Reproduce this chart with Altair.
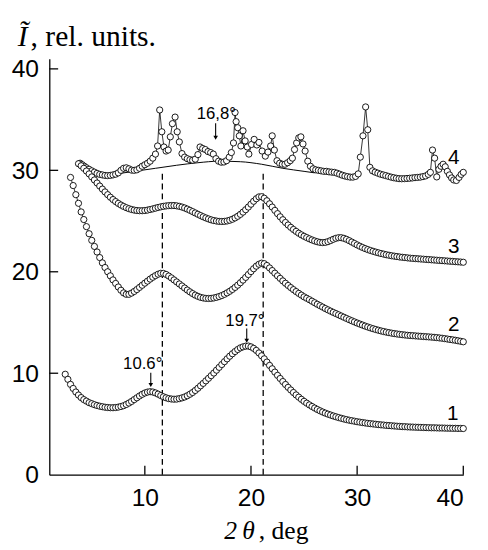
import altair as alt
import pandas as pd
import numpy as np

# ---------------- data ----------------
# curve 1 : 2.5 .. 40 deg, step 0.25
y1 = [9.9, 9.4, 8.9, 8.5, 8.15, 7.85, 7.6, 7.4, 7.25, 7.1,
      7.0, 6.9, 6.82, 6.75, 6.7, 6.65, 6.62, 6.6, 6.6, 6.62,
      6.66, 6.72, 6.8, 6.92, 7.06, 7.22, 7.4, 7.58, 7.76, 7.92,
      8.05, 8.14, 8.18, 8.15, 8.06, 7.94, 7.8, 7.68, 7.58, 7.5,
      7.46, 7.44, 7.45, 7.5, 7.57, 7.66, 7.78, 7.93, 8.1, 8.3,
      8.52, 8.76, 9.0, 9.25, 9.5, 9.76, 10.02, 10.3, 10.58, 10.86,
      11.14, 11.42, 11.68, 11.92, 12.14, 12.34, 12.5, 12.6, 12.67, 12.68,
      12.6, 12.45, 12.25, 12.0, 11.72, 11.42, 11.1, 10.77, 10.44, 10.11,
      9.79, 9.48, 9.18, 8.89, 8.61, 8.35, 8.1, 7.86, 7.64, 7.43,
      7.23, 7.05, 6.88, 6.72, 6.57, 6.43, 6.3, 6.18, 6.07, 5.97,
      5.88, 5.79, 5.71, 5.63, 5.56, 5.49, 5.43, 5.37, 5.32, 5.27,
      5.22, 5.18, 5.14, 5.1, 5.06, 5.03, 5.0, 4.97, 4.94, 4.91,
      4.89, 4.86, 4.84, 4.82, 4.8, 4.78, 4.76, 4.74, 4.73, 4.71,
      4.7, 4.69, 4.68, 4.67, 4.66, 4.65, 4.64, 4.63, 4.62, 4.62,
      4.61, 4.6, 4.6, 4.59, 4.58, 4.58, 4.57, 4.57, 4.56, 4.56,
      4.55]
x1_range = [2.5, 40.0]

# curve 2 : 3.0 .. 40 deg, step 0.25
y2 = [29.3, 28.5, 27.6, 26.75, 25.9, 25.15, 24.45, 23.75, 23.1, 22.5,
      21.95, 21.4, 20.88, 20.42, 20.0, 19.6, 19.2, 18.85, 18.5, 18.18,
      17.92, 17.78, 17.78, 17.9, 18.06, 18.25, 18.46, 18.67, 18.88, 19.08,
      19.28, 19.46, 19.62, 19.76, 19.85, 19.84, 19.74, 19.58, 19.4, 19.2,
      19.0, 18.8, 18.6, 18.4, 18.2, 18.02, 17.85, 17.7, 17.58, 17.48,
      17.42, 17.38, 17.37, 17.38, 17.42, 17.48, 17.56, 17.66, 17.78, 17.92,
      18.08, 18.26, 18.46, 18.68, 18.92, 19.18, 19.45, 19.73, 20.02, 20.3,
      20.55, 20.74, 20.85, 20.8, 20.62, 20.38, 20.12, 19.86, 19.6, 19.35,
      19.1, 18.87, 18.65, 18.44, 18.24, 18.05, 17.87, 17.7, 17.53, 17.39,
      17.25, 17.1, 16.95, 16.8, 16.66, 16.52, 16.38, 16.25, 16.12, 16.0,
      15.88, 15.76, 15.64, 15.52, 15.4, 15.28, 15.17, 15.06, 14.95, 14.85,
      14.75, 14.65, 14.56, 14.47, 14.39, 14.31, 14.24, 14.17, 14.11, 14.05,
      14.0, 13.95, 13.91, 13.87, 13.83, 13.8, 13.77, 13.74, 13.72, 13.7,
      13.68, 13.66, 13.64, 13.62, 13.6, 13.58, 13.56, 13.54, 13.51, 13.48,
      13.45, 13.41, 13.37, 13.33, 13.29, 13.25, 13.2, 13.15, 13.1]
x2_range = [3.0, 40.0]

# curve 3 : 3.75 .. 40 deg, step 0.25
y3 = [30.65, 30.45, 30.2, 29.93, 29.65, 29.35, 29.05, 28.75, 28.45, 28.15,
      27.87, 27.6, 27.35, 27.12, 26.92, 26.74, 26.58, 26.44, 26.32, 26.22,
      26.14, 26.08, 26.04, 26.02, 26.02, 26.04, 26.08, 26.14, 26.2, 26.27,
      26.34, 26.4, 26.45, 26.49, 26.52, 26.53, 26.53, 26.5, 26.45, 26.38,
      26.29, 26.18, 26.06, 25.93, 25.8, 25.67, 25.54, 25.42, 25.31, 25.21,
      25.12, 25.05, 25.0, 24.97, 24.96, 24.97, 25.01, 25.08, 25.18, 25.31,
      25.47, 25.66, 25.88, 26.12, 26.38, 26.66, 26.95, 27.2, 27.38, 27.4,
      27.25, 27.0, 26.7, 26.38, 26.05, 25.73, 25.42, 25.13, 24.86, 24.61,
      24.38, 24.17, 23.98, 23.8, 23.64, 23.5, 23.37, 23.25, 23.14, 23.04,
      22.96, 22.9, 22.88, 22.9, 22.97, 23.08, 23.2, 23.3, 23.36, 23.36,
      23.3, 23.2, 23.07, 22.93, 22.79, 22.65, 22.52, 22.4, 22.29, 22.19,
      22.1, 22.02, 21.94, 21.87, 21.8, 21.74, 21.68, 21.63, 21.58, 21.54,
      21.5, 21.46, 21.43, 21.4, 21.37, 21.34, 21.32, 21.3, 21.28, 21.26,
      21.24, 21.22, 21.2, 21.18, 21.16, 21.14, 21.12, 21.1, 21.08, 21.06,
      21.04, 21.02, 21.0, 20.98, 20.96, 20.94]
x3_range = [3.75, 40.0]

# curve 4 (irregular, spiky)
x4 = [3.9, 4.1, 4.3, 4.5, 4.75, 5.0, 5.25, 5.5, 5.75, 6.0,
      6.25, 6.5, 6.75, 7.0, 7.25, 7.5, 7.75, 8.0, 8.25, 8.5,
      8.75, 9.0, 9.25, 9.5, 9.75, 10.0, 10.25, 10.5, 10.75, 11.0,
      11.2, 11.4, 11.6, 11.8, 12.0, 12.2, 12.4, 12.6, 12.85, 13.05,
      13.25, 13.5, 13.75, 14.0, 14.25, 14.5, 14.75, 15.0, 15.2, 15.45,
      15.7, 15.95, 16.2, 16.45, 16.7, 16.95, 17.2, 17.45, 17.7, 17.95,
      18.15, 18.35, 18.5, 18.6, 18.75, 18.9, 19.05, 19.25, 19.45, 19.65,
      19.8, 20.05, 20.3, 20.55, 20.75, 21.05, 21.35, 21.6, 21.85, 22.0,
      22.2, 22.45, 22.7, 22.95, 23.2, 23.45, 23.7, 23.9, 24.1, 24.3,
      24.5, 24.7, 24.9, 25.1, 25.35, 25.6, 25.85, 26.1, 26.35, 26.6,
      26.85, 27.1, 27.35, 27.6, 27.85, 28.1, 28.35, 28.6, 28.85, 29.1,
      29.35, 29.6, 29.85, 30.1, 30.3, 30.55, 30.8, 31.0, 31.2, 31.45,
      31.7, 31.95, 32.2, 32.45, 32.7, 32.95, 33.2, 33.45, 33.7, 33.95,
      34.2, 34.45, 34.7, 34.95, 35.2, 35.45, 35.7, 35.95, 36.2, 36.45,
      36.7, 36.9, 37.1, 37.3, 37.5, 37.7, 37.9, 38.1, 38.3, 38.5,
      38.7, 38.9, 39.1, 39.35, 39.6, 39.8, 40.0]
y4 = [30.7, 30.55, 30.4, 30.25, 30.1, 29.95, 29.82, 29.7, 29.6, 29.55,
      29.5, 29.48, 29.5, 29.55, 29.62, 29.75, 30.0, 30.2, 30.25, 30.15,
      30.02, 30.0, 30.05, 30.2, 30.4, 30.55, 30.7, 30.9, 31.2, 31.6,
      32.4, 35.95, 33.8, 32.3, 31.9, 32.0, 33.3, 34.6, 35.25, 33.8,
      32.8, 31.65, 31.3, 31.15, 31.05, 31.0, 31.1, 31.55, 32.3, 32.15,
      32.05, 31.85, 31.75, 31.6, 31.15, 30.9, 30.8, 30.82, 30.95, 31.3,
      31.75, 32.7, 35.7, 34.8, 34.2, 33.4, 32.4, 33.9, 32.9, 32.3,
      31.6, 32.55, 33.05, 32.5, 32.75, 31.9, 31.4, 31.8, 32.4, 33.4,
      32.0, 30.95, 30.7, 30.6, 30.6, 30.75, 30.95, 31.2, 32.05, 32.7,
      33.2, 33.3, 32.6, 31.9, 30.9, 30.4, 30.15, 30.05, 30.0, 29.95,
      29.9, 29.9, 29.85, 29.82, 29.8, 29.72, 29.62, 29.52, 29.44, 29.38,
      29.33, 29.33, 29.4, 29.65, 31.3, 33.4, 36.25, 34.0, 30.3, 29.95,
      29.82, 29.72, 29.62, 29.55, 29.48, 29.4, 29.33, 29.27, 29.22, 29.18,
      29.17, 29.18, 29.2, 29.22, 29.25, 29.28, 29.3, 29.33, 29.38, 29.45,
      29.6, 29.8, 32.0, 31.2, 29.35, 30.1, 30.4, 30.6, 30.35, 29.9,
      29.55, 29.25, 29.05, 29.0, 29.3, 29.6, 29.8]

# smooth background line under curve 4
base_x = [5.5, 7.0, 9.0, 11.0, 13.0, 15.0, 17.0, 19.0, 21.0, 23.0, 25.0, 26.0]
base_y = [29.4, 29.6, 29.9, 30.2, 30.5, 30.75, 30.9, 30.85, 30.6, 30.2, 29.9, 29.75]

# dashed vertical guides
dash_x = [11.65, 21.15]
dash_top = [29.9, 29.9]

# peak annotations
ann_text = ["10.6°", "19.7°", "16,8°"]
ann_tx = [9.8, 19.43, 16.74]
ann_ty = [10.37, 14.63, 35.1]
arr_x = [10.56, 19.6, 16.67]
arr_top = [10.05, 14.4, 34.64]
arr_bot = [8.95, 13.3, 33.3]
arr_head = [8.85, 13.2, 33.2]

# curve numbers
lab_text = ["1", "2", "3", "4"]
lab_x = [39.0, 39.1, 39.1, 39.1]
lab_y = [5.43, 14.15, 21.9, 30.6]

x_ticks = [10, 20, 30, 40]
y_ticks = [0, 10, 20, 30, 40]
y_inner_ticks = [10, 20, 30, 40]

# ---------------- build chart ----------------
W, H = 421, 423
XS = alt.Scale(domain=[1, 40], nice=False, zero=False)
YS = alt.Scale(domain=[0, 41], nice=False, zero=False)
XA = alt.Axis(values=x_ticks, title=None, grid=False, tickSize=0, labelPadding=11,
              labelFontSize=25, labelFont="Liberation Sans", labelColor="black",
              domainColor="black", domainWidth=1.3)
YA = alt.Axis(values=y_ticks, title=None, grid=False, tickSize=0, labelPadding=11,
              labelFontSize=25, labelFont="Liberation Sans", labelColor="black",
              domainColor="black", domainWidth=1.3)

def X(f):
    return alt.X(f, type="quantitative", scale=XS, axis=XA)

def Y(f):
    return alt.Y(f, type="quantitative", scale=YS, axis=YA)

frames = []
for name, ys, rng in [("1", y1, x1_range), ("2", y2, x2_range), ("3", y3, x3_range)]:
    xs = np.linspace(rng[0], rng[1], len(ys))
    frames.append(pd.DataFrame({"x": xs, "y": ys, "s": name}))
frames.append(pd.DataFrame({"x": x4, "y": y4, "s": "4"}))
df = pd.concat(frames[::-1], ignore_index=True)
df["o"] = np.arange(len(df))

lines = alt.Chart(df).mark_line(color="black", strokeWidth=0.8).encode(
    x=X("x"), y=Y("y"), detail="s:N", order="o:Q")
points = alt.Chart(df).mark_point(shape="circle", filled=True, fill="white", stroke="black",
                                  strokeWidth=0.9, size=40, opacity=1, fillOpacity=1,
                                  strokeOpacity=1).encode(x=X("x"), y=Y("y"), detail="s:N", order="o:Q")

base = alt.Chart(pd.DataFrame({"x": base_x, "y": base_y})).mark_line(
    color="black", strokeWidth=1.0, interpolate="monotone").encode(x=X("x"), y=Y("y"))

dash = alt.Chart(pd.DataFrame({"x": dash_x, "y": [0, 0], "y2": dash_top})).mark_rule(
    color="black", strokeWidth=1.3, strokeDash=[6, 4]).encode(x=X("x"), y=Y("y"), y2="y2:Q")

ann = alt.Chart(pd.DataFrame({"t": ann_text, "x": ann_tx, "y": ann_ty})).mark_text(
    font="Liberation Sans", fontSize=17, color="black", baseline="alphabetic", align="center").encode(
    x=X("x"), y=Y("y"), text="t:N")
arr = alt.Chart(pd.DataFrame({"x": arr_x, "y": arr_top, "y2": arr_bot})).mark_rule(
    color="black", strokeWidth=1.1).encode(x=X("x"), y=Y("y"), y2="y2:Q")
heads = alt.Chart(pd.DataFrame({"x": arr_x, "y": arr_head})).mark_point(
    shape="triangle-down", filled=True, color="black", size=22, opacity=1).encode(x=X("x"), y=Y("y"))

labs = alt.Chart(pd.DataFrame({"t": lab_text, "x": lab_x, "y": lab_y})).mark_text(
    font="Liberation Sans", fontSize=21, color="black", baseline="alphabetic", align="center").encode(
    x=X("x"), y=Y("y"), text="t:N")

xt = alt.Chart(pd.DataFrame({"v": x_ticks})).mark_rule(color="black", strokeWidth=1.3).encode(
    x=X("v"), y=alt.value(H), y2=alt.value(H - 9))
yt = alt.Chart(pd.DataFrame({"v": y_inner_ticks})).mark_rule(color="black", strokeWidth=1.3).encode(
    y=Y("v"), x=alt.value(0), x2=alt.value(9))

def label(txt, px, py, size, style="normal"):
    return alt.Chart(pd.DataFrame({"t": [txt]})).mark_text(
        font="Liberation Serif", fontSize=size, fontStyle=style, color="black",
        align="left", baseline="alphabetic").encode(text="t:N", x=alt.value(px), y=alt.value(py))

ytitle_a = label("Ĩ", -32, -13, 30, "italic")
ytitle_b = label(", rel. units.", -19, -13, 30)
xtitle_a = label("2\u2009θ", 178, 488, 26, "italic")
xtitle_b = label(", deg", 213, 488, 26)

chart = alt.layer(dash, base, lines, points, ann, arr, heads, labs, xt, yt,
                  ytitle_a, ytitle_b, xtitle_a, xtitle_b).properties(
    width=W, height=H,
    autosize=alt.AutoSizeParams(type="none"),
    padding={"left": 42, "top": 47, "right": 17, "bottom": 72},
).configure_view(stroke=None)

chart.save("out.html", embed_options={"renderer": "svg", "actions": False})
